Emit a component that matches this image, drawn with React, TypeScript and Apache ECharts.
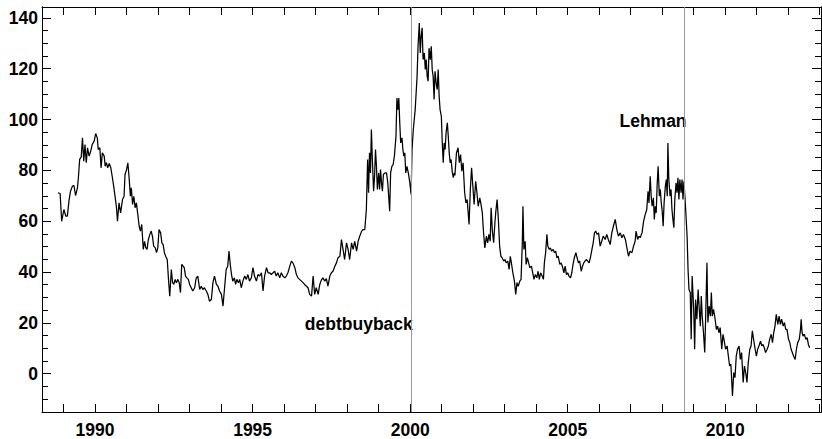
import React, { useEffect, useRef } from "react";
import * as echarts from "echarts";

// Weekly spread readings, [decimal year, level], split by period.
const spread1988to1992: [number, number][] = [
  [1988.82, 71.2], [1988.89, 70.9], [1988.94, 60.0], [1989.01, 64.6], [1989.07, 62.0], [1989.12, 62.0],
  [1989.17, 67.9], [1989.22, 71.8], [1989.28, 73.8], [1989.33, 74.0], [1989.38, 70.1], [1989.44, 73.1],
  [1989.47, 77.1], [1989.51, 84.3], [1989.56, 85.3], [1989.60, 92.8], [1989.64, 83.6], [1989.68, 90.2],
  [1989.72, 83.0], [1989.76, 88.9], [1989.81, 85.6], [1989.86, 87.5], [1989.91, 90.2], [1989.97, 91.5],
  [1990.02, 94.5], [1990.07, 92.8], [1990.10, 88.2], [1990.15, 88.9], [1990.19, 81.0], [1990.23, 86.9],
  [1990.29, 85.6], [1990.32, 81.6], [1990.36, 83.0], [1990.40, 81.0], [1990.45, 82.7], [1990.50, 81.0],
  [1990.55, 77.1], [1990.59, 73.8], [1990.64, 69.2], [1990.68, 65.3], [1990.71, 60.0], [1990.76, 67.2],
  [1990.81, 63.3], [1990.87, 68.5], [1990.92, 69.8], [1990.95, 78.4], [1991.00, 80.3], [1991.04, 83.0],
  [1991.08, 77.1], [1991.12, 69.8], [1991.15, 73.1], [1991.19, 66.6], [1991.23, 69.8], [1991.27, 65.3],
  [1991.31, 67.2], [1991.35, 63.3], [1991.40, 58.0], [1991.44, 56.1], [1991.48, 58.7], [1991.53, 48.9],
  [1991.57, 52.1], [1991.61, 49.5], [1991.65, 48.9], [1991.69, 52.8], [1991.74, 54.8], [1991.78, 56.1],
  [1991.82, 54.1], [1991.86, 50.2], [1991.91, 49.5], [1991.95, 47.6], [1991.99, 49.5], [1992.03, 56.7],
  [1992.08, 55.4], [1992.12, 51.5], [1992.16, 50.8], [1992.20, 47.6], [1992.24, 46.2], [1992.29, 44.9],
  [1992.33, 37.1], [1992.37, 30.5], [1992.42, 41.0], [1992.46, 35.8], [1992.50, 35.1], [1992.54, 37.1],
  [1992.58, 35.8], [1992.63, 37.1], [1992.67, 35.8], [1992.71, 31.9], [1992.75, 43.0], [1992.83, 41.7],
  [1992.87, 38.4], [1992.91, 37.7], [1992.96, 37.1],
];

const spread1993to1997: [number, number][] = [
  [1993.00, 35.1], [1993.05, 33.8], [1993.10, 32.5], [1993.16, 33.8], [1993.21, 37.7], [1993.26, 38.4],
  [1993.32, 33.1], [1993.37, 34.4], [1993.42, 33.1], [1993.47, 33.8], [1993.53, 32.5], [1993.58, 31.2],
  [1993.63, 28.5], [1993.69, 29.2], [1993.74, 35.8], [1993.79, 38.4], [1993.85, 35.1], [1993.90, 34.4],
  [1993.95, 32.5], [1994.01, 31.2], [1994.06, 26.6], [1994.11, 33.8], [1994.16, 41.0], [1994.21, 42.3],
  [1994.25, 48.2], [1994.29, 43.0], [1994.33, 39.0], [1994.37, 36.4], [1994.42, 37.7], [1994.46, 35.1],
  [1994.50, 37.1], [1994.55, 35.8], [1994.59, 37.1], [1994.64, 33.8], [1994.69, 36.4], [1994.75, 38.4],
  [1994.80, 37.1], [1994.85, 39.0], [1994.90, 36.4], [1994.96, 37.7], [1995.01, 41.7], [1995.06, 38.4],
  [1995.12, 36.4], [1995.17, 39.0], [1995.22, 38.4], [1995.28, 39.7], [1995.33, 32.5], [1995.38, 38.4],
  [1995.44, 41.7], [1995.49, 39.7], [1995.54, 39.7], [1995.59, 39.0], [1995.65, 39.7], [1995.70, 40.3],
  [1995.75, 38.4], [1995.80, 39.7], [1995.86, 37.7], [1995.91, 39.7], [1995.96, 38.4], [1996.02, 37.7],
  [1996.07, 38.4], [1996.12, 39.7], [1996.18, 42.3], [1996.23, 44.3], [1996.28, 43.6], [1996.34, 41.7],
  [1996.39, 39.0], [1996.44, 37.7], [1996.49, 37.1], [1996.55, 36.4], [1996.60, 35.8], [1996.65, 35.1],
  [1996.71, 34.4], [1996.76, 33.8], [1996.81, 31.2], [1996.87, 30.5], [1996.92, 38.4], [1996.97, 31.2],
  [1997.02, 33.8], [1997.08, 31.2], [1997.13, 35.0], [1997.18, 36.8], [1997.23, 37.7], [1997.29, 36.4],
  [1997.34, 37.4], [1997.39, 34.4], [1997.45, 38.4], [1997.50, 39.7], [1997.55, 40.3], [1997.61, 42.3],
  [1997.66, 43.6], [1997.71, 45.6], [1997.77, 46.2], [1997.82, 52.8], [1997.87, 48.9], [1997.92, 44.9],
  [1997.98, 51.5],
];

const spread1998to2001: [number, number][] = [
  [1998.03, 48.9], [1998.08, 44.9], [1998.14, 51.5], [1998.19, 48.9], [1998.24, 52.1], [1998.30, 48.2],
  [1998.35, 52.1], [1998.40, 54.1], [1998.46, 56.1], [1998.51, 56.7], [1998.56, 56.7], [1998.61, 64.6],
  [1998.65, 84.3], [1998.68, 71.2], [1998.71, 86.9], [1998.74, 79.0], [1998.77, 96.1], [1998.80, 84.3],
  [1998.84, 71.8], [1998.87, 77.7], [1998.90, 88.2], [1998.93, 81.6], [1998.96, 72.5], [1999.00, 79.0],
  [1999.03, 72.5], [1999.06, 80.3], [1999.09, 75.1], [1999.12, 71.8], [1999.15, 78.4], [1999.20, 79.0],
  [1999.25, 79.0], [1999.29, 75.1], [1999.35, 63.9], [1999.38, 79.0], [1999.42, 81.6], [1999.46, 82.3],
  [1999.50, 85.6], [1999.55, 93.4], [1999.58, 108.5], [1999.61, 103.9], [1999.64, 108.5], [1999.67, 98.7],
  [1999.70, 90.8], [1999.74, 92.8], [1999.77, 88.2], [1999.80, 85.6], [1999.83, 86.9], [1999.86, 79.0],
  [1999.90, 81.6], [1999.95, 78.4], [1999.99, 75.1], [2000.03, 70.5], [2000.06, 88.2], [2000.10, 96.1],
  [2000.13, 100.0], [2000.16, 103.9], [2000.19, 110.5], [2000.22, 117.0], [2000.25, 128.8], [2000.29, 138.0],
  [2000.32, 126.2], [2000.35, 132.8], [2000.38, 136.1], [2000.41, 123.6], [2000.45, 126.2], [2000.48, 119.7],
  [2000.51, 123.6], [2000.54, 117.0], [2000.57, 115.1], [2000.60, 128.1], [2000.64, 123.6], [2000.67, 128.8],
  [2000.70, 119.7], [2000.73, 117.0], [2000.76, 107.9], [2000.79, 119.0], [2000.83, 113.8], [2000.86, 111.8],
  [2000.89, 119.7], [2000.92, 109.2], [2000.95, 103.9], [2000.99, 101.3], [2001.02, 90.8], [2001.05, 83.0],
  [2001.08, 90.8], [2001.11, 88.2], [2001.14, 94.8], [2001.18, 98.7], [2001.21, 93.4], [2001.24, 86.9],
  [2001.27, 83.0], [2001.30, 84.3], [2001.34, 79.0], [2001.37, 77.1], [2001.40, 79.0], [2001.42, 78.0],
  [2001.47, 86.9], [2001.52, 88.9], [2001.56, 83.0], [2001.60, 86.2], [2001.64, 79.7], [2001.68, 83.0],
  [2001.73, 71.2], [2001.77, 67.2], [2001.81, 68.5], [2001.87, 58.7], [2001.91, 72.5], [2001.95, 81.0],
  [2001.99, 73.8],
];

const spread2002to2005: [number, number][] = [
  [2002.03, 66.6], [2002.08, 75.7], [2002.12, 71.2], [2002.16, 65.9], [2002.21, 69.2], [2002.25, 66.6],
  [2002.29, 63.3], [2002.33, 55.4], [2002.37, 49.5], [2002.42, 54.1], [2002.46, 51.5], [2002.50, 54.8],
  [2002.54, 52.1], [2002.57, 65.3], [2002.61, 56.1], [2002.65, 51.5], [2002.69, 59.4], [2002.72, 63.9],
  [2002.76, 68.5], [2002.80, 60.7], [2002.84, 50.2], [2002.88, 46.2], [2002.92, 45.6], [2002.97, 44.3],
  [2003.01, 44.9], [2003.05, 43.6], [2003.10, 44.3], [2003.14, 41.0], [2003.18, 46.2], [2003.22, 43.0],
  [2003.26, 39.7], [2003.31, 36.4], [2003.35, 31.2], [2003.39, 35.8], [2003.43, 34.4], [2003.48, 36.4],
  [2003.52, 37.1], [2003.56, 51.5], [2003.58, 65.9], [2003.61, 48.9], [2003.65, 52.1], [2003.68, 43.0],
  [2003.72, 45.6], [2003.76, 43.6], [2003.80, 41.7], [2003.85, 42.3], [2003.89, 39.7], [2003.93, 37.1],
  [2003.97, 39.0], [2004.02, 37.7], [2004.06, 40.3], [2004.10, 37.1], [2004.14, 39.7], [2004.19, 38.4],
  [2004.23, 37.1], [2004.26, 43.6], [2004.30, 47.6], [2004.34, 54.8], [2004.37, 50.2], [2004.41, 48.9],
  [2004.45, 49.5], [2004.49, 48.2], [2004.54, 48.9], [2004.58, 47.6], [2004.62, 48.2], [2004.66, 45.6],
  [2004.70, 46.2], [2004.75, 43.0], [2004.79, 43.6], [2004.83, 42.3], [2004.88, 39.7], [2004.92, 42.3],
  [2004.96, 39.0], [2005.00, 39.7], [2005.04, 38.4], [2005.09, 37.7], [2005.13, 39.7], [2005.17, 43.0],
  [2005.21, 45.6], [2005.26, 47.6], [2005.30, 45.6], [2005.34, 43.6], [2005.38, 44.3], [2005.43, 40.3],
  [2005.47, 42.3], [2005.51, 43.6], [2005.55, 44.3], [2005.59, 44.9], [2005.64, 44.3], [2005.68, 43.6],
  [2005.72, 45.6], [2005.77, 48.9], [2005.81, 51.5], [2005.85, 55.4], [2005.89, 56.1], [2005.93, 54.8],
  [2005.98, 55.4],
];

const spread2006to2008: [number, number][] = [
  [2006.03, 50.2], [2006.08, 52.1], [2006.13, 54.1], [2006.19, 52.8], [2006.24, 54.8], [2006.29, 52.8],
  [2006.35, 50.8], [2006.40, 55.4], [2006.45, 58.0], [2006.51, 60.7], [2006.56, 56.7], [2006.61, 54.1],
  [2006.67, 55.4], [2006.72, 53.5], [2006.77, 54.8], [2006.83, 52.8], [2006.88, 49.5], [2006.93, 46.2],
  [2006.98, 48.2], [2007.04, 47.6], [2007.09, 50.2], [2007.14, 52.1], [2007.17, 56.1], [2007.22, 52.8],
  [2007.26, 54.1], [2007.30, 53.5], [2007.36, 55.4], [2007.41, 60.0], [2007.46, 62.6], [2007.51, 64.6],
  [2007.55, 71.8], [2007.58, 67.2], [2007.62, 77.7], [2007.65, 69.8], [2007.68, 65.9], [2007.72, 69.2],
  [2007.75, 60.7], [2007.78, 65.9], [2007.81, 63.3], [2007.84, 74.4], [2007.87, 81.6], [2007.91, 69.8],
  [2007.94, 72.5], [2007.97, 67.2], [2008.00, 63.9], [2008.03, 58.0], [2008.06, 67.2], [2008.10, 73.8],
  [2008.13, 76.4], [2008.16, 69.8], [2008.18, 90.8], [2008.21, 76.4], [2008.25, 69.8], [2008.28, 72.5],
  [2008.31, 64.6], [2008.34, 60.7], [2008.37, 57.4], [2008.40, 68.5], [2008.44, 75.1], [2008.47, 71.2],
  [2008.50, 77.1], [2008.53, 68.5], [2008.56, 76.4], [2008.60, 71.2], [2008.63, 76.4], [2008.66, 68.5],
  [2008.69, 75.7], [2008.72, 69.8], [2008.75, 63.3], [2008.79, 54.1], [2008.82, 41.0], [2008.85, 33.1],
];

const spread2009to2012: [number, number][] = [
  [2008.89, 31.9], [2008.92, 13.5], [2008.95, 38.4], [2009.00, 25.3], [2009.03, 9.6], [2009.06, 29.2],
  [2009.10, 21.4], [2009.14, 33.1], [2009.17, 26.6], [2009.21, 18.7], [2009.24, 30.5], [2009.27, 22.6],
  [2009.31, 16.1], [2009.35, 8.3], [2009.38, 22.6], [2009.42, 43.6], [2009.45, 20.1], [2009.49, 26.6],
  [2009.53, 22.6], [2009.56, 31.9], [2009.59, 22.6], [2009.63, 25.3], [2009.68, 21.4], [2009.72, 17.4],
  [2009.76, 18.7], [2009.80, 16.1], [2009.84, 18.1], [2009.89, 9.6], [2009.93, 15.5], [2009.97, 12.8],
  [2010.01, 9.6], [2010.06, 10.9], [2010.10, 6.9], [2010.14, 3.0], [2010.18, 3.7], [2010.23, -8.8],
  [2010.27, 0.4], [2010.31, -1.6], [2010.35, 6.9], [2010.39, 9.6], [2010.44, 10.9], [2010.48, 5.6],
  [2010.52, 8.3], [2010.57, -3.5], [2010.61, 3.0], [2010.65, 0.4], [2010.69, -3.5], [2010.73, 4.3],
  [2010.78, 9.6], [2010.82, 10.9], [2010.86, 16.8], [2010.90, 13.5], [2010.95, 9.6], [2010.99, 6.9],
  [2011.03, 9.6], [2011.07, 10.9], [2011.12, 12.8], [2011.16, 10.9], [2011.20, 11.5], [2011.24, 10.2],
  [2011.28, 8.3], [2011.33, 9.6], [2011.37, 10.9], [2011.41, 13.5], [2011.46, 15.5], [2011.50, 12.2],
  [2011.54, 16.1], [2011.58, 18.7], [2011.62, 23.3], [2011.67, 19.4], [2011.71, 22.6], [2011.75, 19.4],
  [2011.79, 21.4], [2011.84, 18.7], [2011.88, 20.1], [2011.92, 17.4], [2011.96, 17.4], [2012.01, 13.5],
  [2012.05, 12.2], [2012.09, 9.6], [2012.13, 8.3], [2012.17, 6.9], [2012.22, 5.6], [2012.26, 9.6],
  [2012.30, 12.2], [2012.35, 13.5], [2012.39, 17.4], [2012.41, 21.4], [2012.44, 16.1], [2012.47, 14.8],
  [2012.51, 15.5], [2012.56, 13.5], [2012.60, 14.2], [2012.64, 11.5], [2012.68, 10.2],
];

// Marked events: vertical rule at the date, label right-aligned against it.
const eventYears = [2000.02, 2008.71];
const eventNames = ["debtbuyback", "Lehman"];
const eventLabelLevels = [19.7, 99.4];

// Axis ranges and ticks.
const X_MIN = 1988.315;
const X_MAX = 2013.04;
const Y_MIN = -15.1;
const Y_MAX = 144.3;
const yearTicks = [
  1989, 1990, 1991, 1992, 1993, 1994, 1995, 1996, 1997, 1998, 1999, 2000, 2001,
  2002, 2003, 2004, 2005, 2006, 2007, 2008, 2009, 2010, 2011, 2012, 2013,
];
const yearLabels = [1990, 1995, 2000, 2005, 2010];
const majorLevels = [0, 20, 40, 60, 80, 100, 120, 140];
const minorLevels = [
  -10, -5, 0, 5, 10, 15, 20, 25, 30, 35, 40, 45, 50, 55, 60, 65, 70, 75, 80,
  85, 90, 95, 100, 105, 110, 115, 120, 125, 130, 135, 140,
];

const FONT_FAMILY = '"Liberation Sans", Arial, Helvetica, sans-serif';

export default function App() {
  const ref = useRef<HTMLDivElement>(null);

  useEffect(() => {
    if (!ref.current) return;
    const chart = echarts.init(ref.current, undefined, { renderer: "svg" });

    const spread = [
      ...spread1988to1992,
      ...spread1993to1997,
      ...spread1998to2001,
      ...spread2002to2005,
      ...spread2006to2008,
      ...spread2009to2012,
    ];

    const frame = { show: true, onZero: false, lineStyle: { color: "#000", width: 1 } };
    const labelFont = {
      fontSize: 17.5,
      fontWeight: "bold" as const,
      fontFamily: FONT_FAMILY,
      color: "#000",
    };
    const xBase = {
      type: "value" as const,
      min: X_MIN,
      max: X_MAX,
      splitLine: { show: false },
      axisLine: frame,
      axisTick: {
        inside: true,
        length: 8,
        customValues: yearTicks,
        lineStyle: { color: "#000", width: 1 },
      },
    };
    const yBase = {
      type: "value" as const,
      min: Y_MIN,
      max: Y_MAX,
      splitLine: { show: false },
      axisLine: frame,
    };
    const majorTick = {
      inside: true,
      length: 9,
      customValues: majorLevels,
      lineStyle: { color: "#000", width: 1 },
    };
    const minorTick = {
      inside: true,
      length: 6,
      customValues: minorLevels,
      lineStyle: { color: "#000", width: 1 },
    };

    chart.setOption({
      animation: false,
      backgroundColor: "#fff",
      grid: { left: 42, top: 7, right: 1, bottom: 26, containLabel: false },
      xAxis: [
        {
          ...xBase,
          position: "bottom",
          axisLabel: {
            ...labelFont,
            margin: 9,
            customValues: yearLabels,
            formatter: (v: number) => String(Math.round(v)),
          },
        },
        { ...xBase, position: "top", axisLabel: { show: false } },
      ],
      yAxis: [
        {
          ...yBase,
          position: "left",
          axisTick: majorTick,
          axisLabel: {
            ...labelFont,
            margin: 4,
            customValues: majorLevels,
            formatter: (v: number) => String(Math.round(v)),
          },
        },
        { ...yBase, position: "left", axisTick: minorTick, axisLabel: { show: false } },
        { ...yBase, position: "right", axisTick: majorTick, axisLabel: { show: false } },
        { ...yBase, position: "right", axisTick: minorTick, axisLabel: { show: false } },
      ],
      series: [
        {
          name: "events",
          type: "custom",
          coordinateSystem: "cartesian2d",
          xAxisIndex: 0,
          yAxisIndex: 0,
          z: 1,
          silent: true,
          data: eventYears.map((yr, i) => [yr, eventLabelLevels[i], i]),
          renderItem: (_params: any, api: any) => {
            const p = api.coord([api.value(0), api.value(1)]);
            const i = api.value(2) as number;
            return {
              type: "text",
              x: p[0] + 2,
              y: p[1],
              style: {
                text: eventNames[i],
                fill: "#000",
                font: `bold 17.5px ${FONT_FAMILY}`,
                align: "right",
                verticalAlign: "middle",
              },
            };
          },
        },
        {
          name: "spread",
          type: "line",
          xAxisIndex: 0,
          yAxisIndex: 0,
          z: 2,
          data: spread,
          showSymbol: false,
          symbol: "none",
          silent: true,
          lineStyle: { color: "#000", width: 1.25 },
          markLine: {
            silent: true,
            symbol: ["none", "none"],
            label: { show: false },
            lineStyle: { color: "#9a9a9a", width: 1, type: "solid" },
            data: eventYears.map((yr) => ({ xAxis: yr })),
          },
        },
      ],
    });

    return () => chart.dispose();
  }, []);

  return (
    <div
      ref={ref}
      style={{ position: "absolute", left: 0, top: 0, width: 822, height: 439 }}
    />
  );
}
